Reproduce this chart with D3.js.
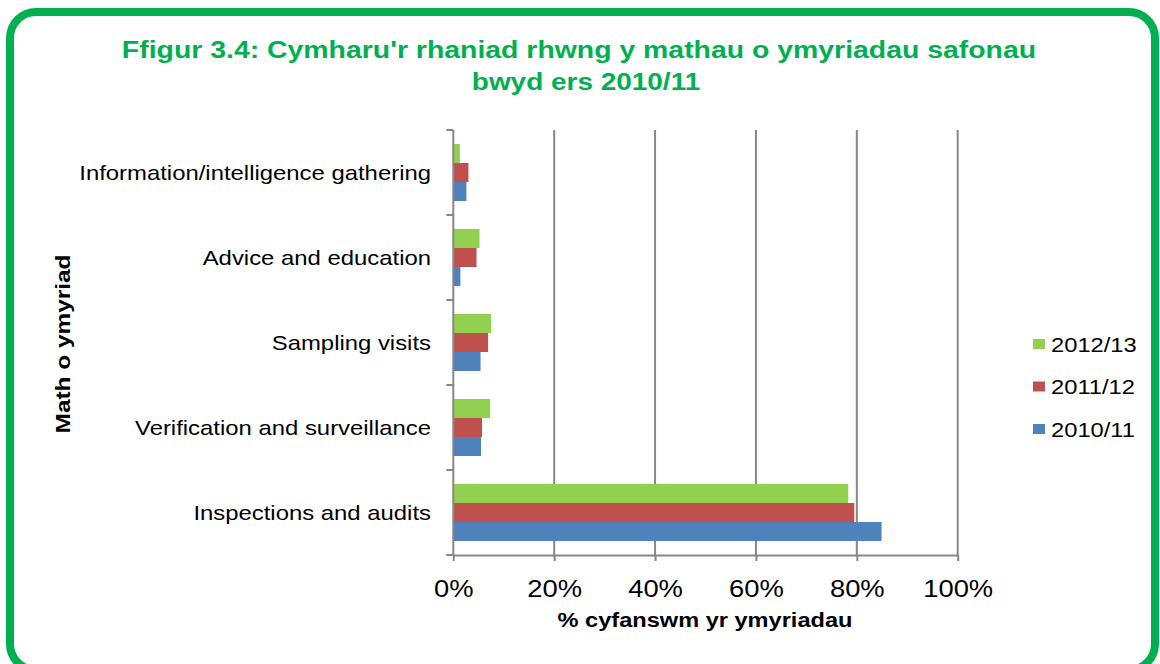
<!DOCTYPE html>
<html>
<head>
<meta charset="utf-8">
<script src="https://cdn.jsdelivr.net/npm/d3@7/dist/d3.min.js"></script>
<style>
  html, body { margin: 0; padding: 0; background: #fff; }
  svg { display: block; font-family: "Liberation Sans", Arial, sans-serif; }
</style>
</head>
<body>
<svg id="chart" width="1160" height="664"></svg>
<script>
// ---- data ----
const categories = [
  "Information/intelligence gathering",
  "Advice and education",
  "Sampling visits",
  "Verification and surveillance",
  "Inspections and audits"
];
const seriesNames = ["2012/13", "2011/12", "2010/11"];
const values2012 = [1.3, 5.2, 7.5, 7.3, 78.3];
const values2011 = [3.0, 4.6, 6.9, 5.7, 79.5];
const values2010 = [2.6, 1.4, 5.4, 5.5, 84.9];
const seriesColors = ["#92D050", "#C0504D", "#4F81BD"];
const xTicks = [0, 20, 40, 60, 80, 100];
const titleLines = [
  "Ffigur 3.4: Cymharu'r rhaniad rhwng y mathau o ymyriadau safonau",
  "bwyd ers 2010/11"
];
const xAxisTitle = "% cyfanswm yr ymyriadau";
const yAxisTitle = "Math o ymyriad";

const seriesValues = [values2012, values2011, values2010];

(function () {
const svg = d3.select("#chart");

// frame
svg.append("rect")
  .attr("x", 10).attr("y", 12)
  .attr("width", 1145).attr("height", 658)
  .attr("rx", 26).attr("ry", 26)
  .attr("fill", "#fff")
  .attr("stroke", "#00B050")
  .attr("stroke-width", 8);

// plot geometry
const pLeft = 453.3, pRight = 957.7, pTop = 130, pBottom = 555;

const x = d3.scaleLinear().domain([0, 100]).range([pLeft, pRight]);
const y = d3.scaleBand().domain(categories).range([pTop, pBottom])
  .paddingInner(0.329).paddingOuter(0.1645);
const ySeries = d3.scaleBand().domain(seriesNames).range([0, y.bandwidth()]);

// gridlines
svg.append("g").selectAll("line")
  .data(xTicks.filter(t => t > 0))
  .join("line")
  .attr("x1", d => x(d)).attr("x2", d => x(d))
  .attr("y1", pTop).attr("y2", pBottom)
  .attr("stroke", "#878787").attr("stroke-width", 2);

// bars
const groups = svg.append("g").selectAll("g")
  .data(seriesNames)
  .join("g")
  .attr("fill", (d, i) => seriesColors[i]);

groups.selectAll("rect")
  .data((s, i) => categories.map((c, j) => ({ c, s, v: seriesValues[i][j] })))
  .join("rect")
  .attr("x", x(0))
  .attr("y", d => y(d.c) + ySeries(d.s))
  .attr("width", d => x(d.v) - x(0))
  .attr("height", ySeries.bandwidth());

// x axis
const xAxis = d3.axisBottom(x).tickValues(xTicks).tickFormat(d => d + "%").tickSize(6).tickSizeOuter(0);
const gx = svg.append("g").attr("transform", `translate(0,${pBottom})`).call(xAxis);
gx.select(".domain").attr("stroke", "#878787").attr("stroke-width", 2);
gx.selectAll(".tick line").attr("stroke", "#878787").attr("stroke-width", 2);
gx.selectAll(".tick text")
  .attr("y", 0).attr("dy", 0)
  .attr("transform", "translate(0,41.5) scale(1.14,1)")
  .attr("font-size", 24).attr("fill", "#000")
  .attr("font-family", "'Liberation Sans', Arial, sans-serif");

// y axis line and ticks at category boundaries
const bVals = [pTop].concat(categories.map((c, i) => pTop + y.step() * (i + 1)));
const gy = svg.append("g");
gy.append("line")
  .attr("x1", x(0)).attr("x2", x(0))
  .attr("y1", pTop).attr("y2", pBottom)
  .attr("stroke", "#878787").attr("stroke-width", 2);
gy.selectAll("line.tk")
  .data(bVals)
  .join("line").attr("class", "tk")
  .attr("x1", x(0) - 7).attr("x2", x(0))
  .attr("y1", d => d).attr("y2", d => d)
  .attr("stroke", "#878787").attr("stroke-width", 2);

// category labels
svg.append("g").selectAll("text")
  .data(categories)
  .join("text")
  .attr("transform", d => `translate(431,${y(d) + y.bandwidth() / 2 + 7.3}) scale(1.165,1)`)
  .attr("text-anchor", "end")
  .attr("font-size", 20.5)
  .attr("fill", "#000")
  .text(d => d);

// title
const titleX = [579, 586], titleSX = [1.22, 1.2];
svg.append("g").selectAll("text")
  .data(titleLines)
  .join("text")
  .attr("transform", (d, i) => `translate(${titleX[i]},${57.5 + i * 32}) scale(${titleSX[i]},1)`)
  .attr("text-anchor", "middle")
  .attr("font-size", 23.3)
  .attr("font-weight", "bold")
  .attr("fill", "#00B050")
  .text(d => d);

// x axis title
svg.append("text")
  .attr("transform", "translate(705,627) scale(1.21,1)")
  .attr("text-anchor", "middle")
  .attr("font-size", 19.5)
  .attr("font-weight", "bold")
  .attr("fill", "#000")
  .text(xAxisTitle);

// y axis title
svg.append("text")
  .attr("transform", "translate(69.5,344) rotate(-90) scale(1.19,1)")
  .attr("text-anchor", "middle")
  .attr("font-size", 20.5)
  .attr("font-weight", "bold")
  .attr("fill", "#000")
  .text(yAxisTitle);

// legend
const legendY = [344, 386.5, 429];
const lg = svg.append("g").selectAll("g")
  .data(seriesNames)
  .join("g")
  .attr("transform", (d, i) => `translate(1033,${legendY[i]})`);
lg.append("rect")
  .attr("x", 0).attr("y", -5)
  .attr("width", 12).attr("height", 10)
  .attr("fill", (d, i) => seriesColors[i]);
lg.append("text")
  .attr("transform", "translate(18,7.5) scale(1.13,1)")
  .attr("font-size", 21)
  .attr("fill", "#000")
  .text(d => d);
})();
</script>
</body>
</html>
